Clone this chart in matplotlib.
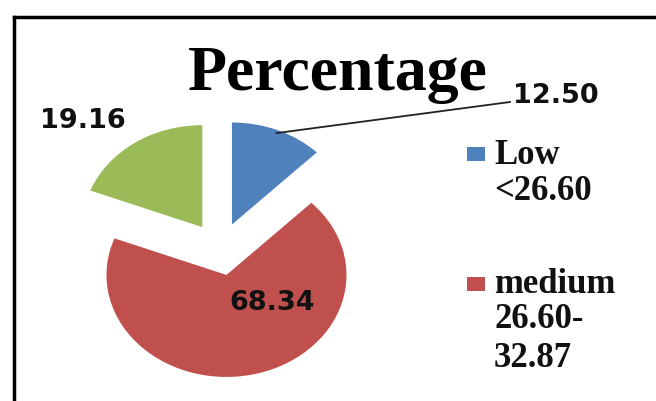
import numpy as np
import matplotlib
matplotlib.use("Agg")
import matplotlib.pyplot as plt
import matplotlib.patches as patches
from matplotlib.lines import Line2D

W, H = 656, 402

# data
categories = ["Low", "medium", "high"]
legend_lines = [["Low", "<26.60"], ["medium", "26.60-", "32.87"]]
values = [12.50, 68.34, 19.16]
value_labels = ["12.50", "68.34", "19.16"]
colors = ["#4F81BD", "#C0504D", "#9BBB59"]


def px(x, y):
    # pixel position (from top-left) -> figure fraction
    return x / W, 1 - y / H


fig = plt.figure(figsize=(W / 100, H / 100), dpi=100)
fig.patch.set_facecolor("white")
ax = fig.add_axes([0, 0, 1, 1])

wedges, _ = ax.pie(values, colors=colors, explode=[0.26] * 3, startangle=90,
                   counterclock=False, radius=1, center=(0, 0),
                   wedgeprops=dict(linewidth=0))

# pie centre at pixel (220, 250), x unit = 120 px, y unit = 102 px
cx, cy, sx, sy = 220, 250, 120, 102
ax.set_aspect("auto")
ax.set_xlim(-cx / sx, (W - cx) / sx)
ax.set_ylim(-(H - cy) / sy, cy / sy)
ax.axis("off")

# value labels
lab_font = dict(family="DejaVu Sans", fontweight="bold", fontsize=19.5, color="#111111")
w0 = wedges[0]
mid = np.deg2rad((w0.theta1 + w0.theta2) / 2)
wc = w0.center
start = (wc[0] + 0.97 * np.cos(mid), wc[1] + 0.97 * np.sin(mid))
end = ((510 - cx) / sx, (cy - 103) / sy)
ax.plot([start[0], end[0]], [start[1], end[1]], color="#222222", lw=1.3)
ax.text((513 - cx) / sx, (cy - 103) / sy, value_labels[0], ha="left", va="baseline", **lab_font)
ax.text((272 - cx) / sx, (cy - 303) / sy, value_labels[1], ha="center", va="center", **lab_font)
ax.text((83 - cx) / sx, (cy - 121) / sy, value_labels[2], ha="center", va="center", **lab_font)

# title
fig.text(*px(338, 90), "Percentage", ha="center", va="baseline",
         family="Liberation Serif", fontweight="bold", fontsize=46)

# legend (third entry falls outside the visible frame)
serif = dict(family="Liberation Serif", fontweight="bold", fontsize=25, color="#111111")
entries = [(148, [164, 200]), (278, [293, 328, 367])]
for (sq_top, baselines), lines, col in zip(entries, legend_lines, colors):
    x0, y0 = px(467, sq_top + 14)
    fig.add_artist(patches.Rectangle((x0, y0), 18 / W, 14 / H, transform=fig.transFigure,
                                     facecolor=col, edgecolor="none"))
    for line, b in zip(lines, baselines):
        fig.text(*px(494, b), line, ha="left", va="baseline", **serif)

# frame border (left and top only visible)
fig.add_artist(Line2D([14 / W, 14 / W], [0, 1 - 18 / H], transform=fig.transFigure,
                      color="black", lw=2.5))
fig.add_artist(Line2D([14 / W, 1], [1 - 18 / H, 1 - 18 / H], transform=fig.transFigure,
                      color="black", lw=2.5))

fig.savefig("out.png", dpi=100)
